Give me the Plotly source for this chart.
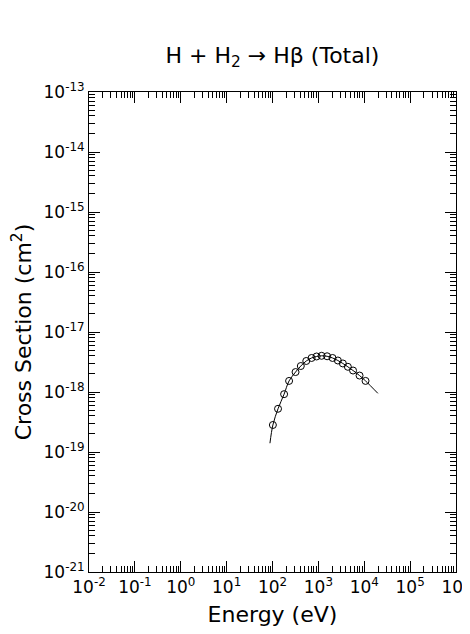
import plotly.graph_objects as go

# Measured data points (eV, cm^2)
energy = [102, 132, 179, 230, 318, 414, 545, 711, 914, 1175, 1549, 2038, 2660,
          3420, 4395, 5700, 7900, 10670]
cross_section = [2.82e-19, 5.25e-19, 9.2e-19, 1.53e-18, 2.15e-18, 2.71e-18, 3.29e-18,
                 3.69e-18, 3.91e-18, 4.01e-18, 3.94e-18, 3.69e-18, 3.35e-18, 2.99e-18,
                 2.63e-18, 2.28e-18, 1.88e-18, 1.53e-18]

# Fitted curve (eV, cm^2)
fit_energy = [88, 102, 132, 179, 230, 318, 414, 545, 711, 914, 1175, 1549, 2038, 2660,
              3420, 4395, 5700, 7900, 10670, 19800]
fit_cross_section = [1.40e-19, 2.82e-19, 5.25e-19, 9.2e-19, 1.53e-18, 2.15e-18, 2.71e-18,
                     3.29e-18, 3.69e-18, 3.91e-18, 4.01e-18, 3.94e-18, 3.69e-18, 3.35e-18,
                     2.99e-18, 2.63e-18, 2.28e-18, 1.88e-18, 1.53e-18, 9.5e-19]

x_exponents = [-2, -1, 0, 1, 2, 3, 4, 5, 6]
y_exponents = [-21, -20, -19, -18, -17, -16, -15, -14, -13]

title_text = "H + H<sub>2</sub> → Hβ (Total)"
x_title = "Energy (eV)"
y_title = "Cross Section (cm<sup>2</sup>)"

FONT = "DejaVu Sans"

W, H = 470, 634

def minor_vals(exps):
    vals = []
    for e in exps[:-1]:
        for m in range(2, 10):
            vals.append(m * 10.0 ** e)
    return vals

fig = go.Figure()
fig.add_trace(go.Scatter(
    x=fit_energy, y=fit_cross_section, mode="lines",
    line=dict(color="black", width=1, shape="spline"),
    showlegend=False, hoverinfo="skip"))
fig.add_trace(go.Scatter(
    x=energy, y=cross_section, mode="markers",
    marker=dict(symbol="circle-open", size=7, color="black", line=dict(width=1)),
    showlegend=False))

axis_common = dict(
    type="log", showgrid=False, zeroline=False, automargin=False,
    showline=True, linecolor="black", linewidth=1, mirror="allticks",
    ticks="inside", ticklen=11, tickwidth=1, tickcolor="black",
    tickfont=dict(family=FONT, size=17, color="black"),
)

fig.update_xaxes(
    **axis_common,
    range=[-2, 6],
    tickvals=[10.0 ** e for e in x_exponents],
    ticktext=[f"10<sup>{e}</sup>" for e in x_exponents],
    minor=dict(tickvals=minor_vals(x_exponents), ticks="inside", ticklen=6,
               tickwidth=1, tickcolor="black", showgrid=False),
    title=dict(text=x_title, font=dict(family=FONT, size=22, color="black"), standoff=10),
)
fig.update_yaxes(
    **axis_common,
    range=[-21, -13],
    tickvals=[10.0 ** e for e in y_exponents],
    ticktext=[f"10<sup>{e}</sup>" for e in y_exponents],
    minor=dict(tickvals=minor_vals(y_exponents), ticks="inside", ticklen=6,
               tickwidth=1, tickcolor="black", showgrid=False),
    title=dict(text=y_title, font=dict(family=FONT, size=22, color="black"), standoff=8),
)

fig.update_layout(
    width=W, height=H,
    margin=dict(l=81, r=22, t=84, b=70),
    paper_bgcolor="white", plot_bgcolor="white",
    title=dict(text=title_text, x=(81 + 448) / 2 / W, xanchor="center",
               y=1 - 47 / H, yanchor="middle",
               font=dict(family=FONT, size=22, color="black")),
)

fig.write_html("out.html")
